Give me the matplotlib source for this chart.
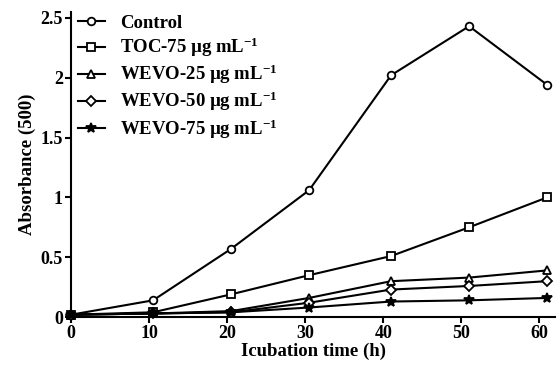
import matplotlib
matplotlib.use("Agg")
import matplotlib.pyplot as plt

# -----------------------------
# THEME
# -----------------------------
plt.rcParams['font.family'] = 'Liberation Serif'
plt.rcParams['font.weight'] = 'bold'
plt.rcParams['mathtext.default'] = 'regular'

# -----------------------------
# DATA
# -----------------------------
hours = [0, 10.5, 20.5, 30.5, 41, 51, 61]

control = [0.02, 0.14, 0.57, 1.06, 2.02, 2.43, 1.94]
toc_75 = [0.02, 0.04, 0.19, 0.35, 0.51, 0.75, 1.00]
wevo_25 = [0.02, 0.03, 0.05, 0.16, 0.30, 0.33, 0.39]
wevo_50 = [0.02, 0.03, 0.04, 0.12, 0.23, 0.26, 0.30]
wevo_75 = [0.02, 0.03, 0.04, 0.08, 0.13, 0.14, 0.16]

labels = [
    "Control",
    "TOC-75 µg mL$^{-1}$",
    "WEVO-25 µg mL$^{-1}$",
    "WEVO-50 µg mL$^{-1}$",
    "WEVO-75 µg mL$^{-1}$",
]
series = [control, toc_75, wevo_25, wevo_50, wevo_75]
markers = ["o", "s", "^", "D", "*"]
sizes = [5.5, 5.5, 6, 5, 7]

# -----------------------------
# PLOT
# -----------------------------
fig = plt.figure(figsize=(5.6, 3.7), dpi=100)
ax = fig.add_axes([0.127, 0.143, 0.864, 0.825])

for vals, lab, m, ms in zip(series, labels, markers, sizes):
    face = "black" if m == "*" else "white"
    ax.plot(hours, vals, color="black", linewidth=1.5, marker=m,
            markersize=ms, markerfacecolor=face, markeredgecolor="black",
            markeredgewidth=1.3, label=lab, clip_on=False)

ax.set_xlim(0, 62)
ax.set_ylim(0, 2.55)
ax.set_xticks([0, 10, 20, 30, 40, 50, 60])
ax.set_yticks([0, 0.5, 1, 1.5, 2, 2.5])
ax.set_yticklabels(["0", "0.5", "1", "1.5", "2", "2.5"])

for side in ["top", "right"]:
    ax.spines[side].set_visible(False)
for side in ["left", "bottom"]:
    ax.spines[side].set_linewidth(1.5)

ax.tick_params(direction="out", length=4, width=1.5, labelsize=13, pad=2)
ax.set_xlabel("Icubation time (h)", fontsize=13.5, fontweight="bold", labelpad=0)
ax.set_ylabel("Absorbance (500)", fontsize=13.5, fontweight="bold", labelpad=3)

ax.legend(loc="upper left", bbox_to_anchor=(0.014, 0.99), frameon=False,
          fontsize=13.5, handlelength=1.45, labelspacing=0.2,
          handletextpad=0.8, borderaxespad=0, borderpad=0)

fig.savefig("out.png", dpi=100)
